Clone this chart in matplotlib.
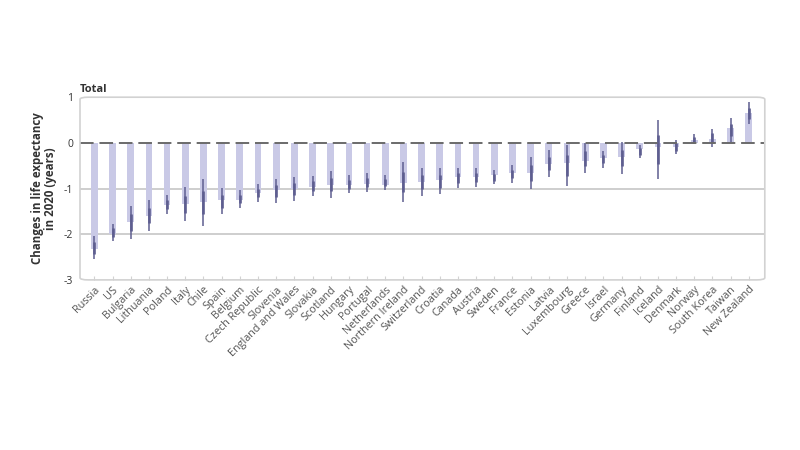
import matplotlib
matplotlib.use("Agg")
import matplotlib.pyplot as plt
from matplotlib.patches import FancyBboxPatch
import numpy as np

plt.rcParams['font.family'] = ['Open Sans', 'DejaVu Sans']

# countries, ordered as in the chart
countries = ['Russia', 'US', 'Bulgaria', 'Lithuania', 'Poland', 'Italy', 'Chile',
             'Spain', 'Belgium', 'Czech Republic', 'Slovenia', 'England and Wales',
             'Slovakia', 'Scotland', 'Hungary', 'Portugal', 'Netherlands',
             'Northern Ireland', 'Switzerland', 'Croatia', 'Canada', 'Austria',
             'Sweden', 'France', 'Estonia', 'Latvia', 'Luxembourg', 'Greece',
             'Israel', 'Germany', 'Finland', 'Iceland', 'Denmark', 'Norway',
             'South Korea', 'Taiwan', 'New Zealand']

# change in life expectancy 2020 (years)
change = [-2.33, -2.0, -1.73, -1.6, -1.35, -1.34, -1.29, -1.24, -1.24, -1.1,
          -1.03, -1.01, -0.96, -0.92, -0.92, -0.9, -0.92, -0.87, -0.85, -0.81,
          -0.75, -0.74, -0.7, -0.65, -0.65, -0.46, -0.43, -0.39, -0.34, -0.3,
          -0.14, -0.09, -0.1, 0.06, 0.09, 0.33, 0.65]

# uncertainty interval
upper = [-2.04, -1.77, -1.39, -1.26, -1.15, -0.97, -0.8, -0.99, -1.04, -0.91,
         -0.8, -0.75, -0.72, -0.62, -0.71, -0.67, -0.7, -0.41, -0.54, -0.56,
         -0.56, -0.56, -0.6, -0.49, -0.3, -0.16, -0.05, -0.01, -0.17, 0.02,
         -0.05, 0.49, 0.07, 0.19, 0.31, 0.55, 0.89]
lower = [-2.55, -2.15, -2.1, -1.92, -1.56, -1.72, -1.82, -1.56, -1.42, -1.29,
         -1.32, -1.28, -1.16, -1.21, -1.1, -1.07, -1.04, -1.3, -1.16, -1.12,
         -0.99, -0.96, -0.9, -0.87, -1.01, -0.75, -0.94, -0.67, -0.54, -0.68,
         -0.34, -0.78, -0.25, -0.03, -0.1, 0.02, 0.41]

bar_col = '#c9c9e6'
err_col = '#5e5e90'

fig = plt.figure(figsize=(8, 4.5), dpi=100)
ax = fig.add_axes([0.1, 0.378, 0.856, 0.406])

x = np.arange(len(countries))
lo = np.array(lower)
hi = np.array(upper)
ax.bar(x, change, width=0.37, color=bar_col, zorder=2)
ax.vlines(x, lo, hi, color=err_col, lw=1.1, zorder=3)
# thicker inner part of the interval
ax.vlines(x, lo + 0.25 * (hi - lo), hi - 0.25 * (hi - lo), color=err_col, lw=1.9, zorder=3)

for v in [-1, -2]:
    ax.axhline(v, color='#c6c6c6', lw=1.2, zorder=1)
ax.axhline(0, color='#6a6a6a', lw=1.4, ls=(0, (7, 3)), zorder=4)

ax.set_xlim(-0.79, 36.88)
ax.set_ylim(-3, 1)
ax.set_yticks([1, 0, -1, -2, -3])
ax.set_yticklabels(['1', '0', '-1', '-2', '-3'])
ax.set_xticks(x)
ax.set_xticklabels(countries, rotation=45, ha='right', rotation_mode='anchor')

for s in ax.spines.values():
    s.set_visible(False)
frame = FancyBboxPatch((0, 0), 1, 1, boxstyle='round,pad=0,rounding_size=0.012',
                       transform=ax.transAxes, fill=False, ec='#d2d2d2', lw=1.2,
                       zorder=5, clip_on=False)
ax.add_patch(frame)

ax.tick_params(axis='x', direction='in', length=3, color='#d2d2d2', labelsize=7.8,
               labelcolor='#555555', pad=3)
ax.tick_params(axis='y', length=0, labelsize=7.5, labelcolor='#333333', pad=5)

ax.set_ylabel('Changes in life expectancy\nin 2020 (years)', fontsize=8.3,
              fontweight='bold', color='#333333', labelpad=5, linespacing=1.0)
ax.set_title('Total', loc='left', fontsize=8, fontweight='bold', color='#333333', pad=4)

fig.savefig('out.png', dpi=100)
